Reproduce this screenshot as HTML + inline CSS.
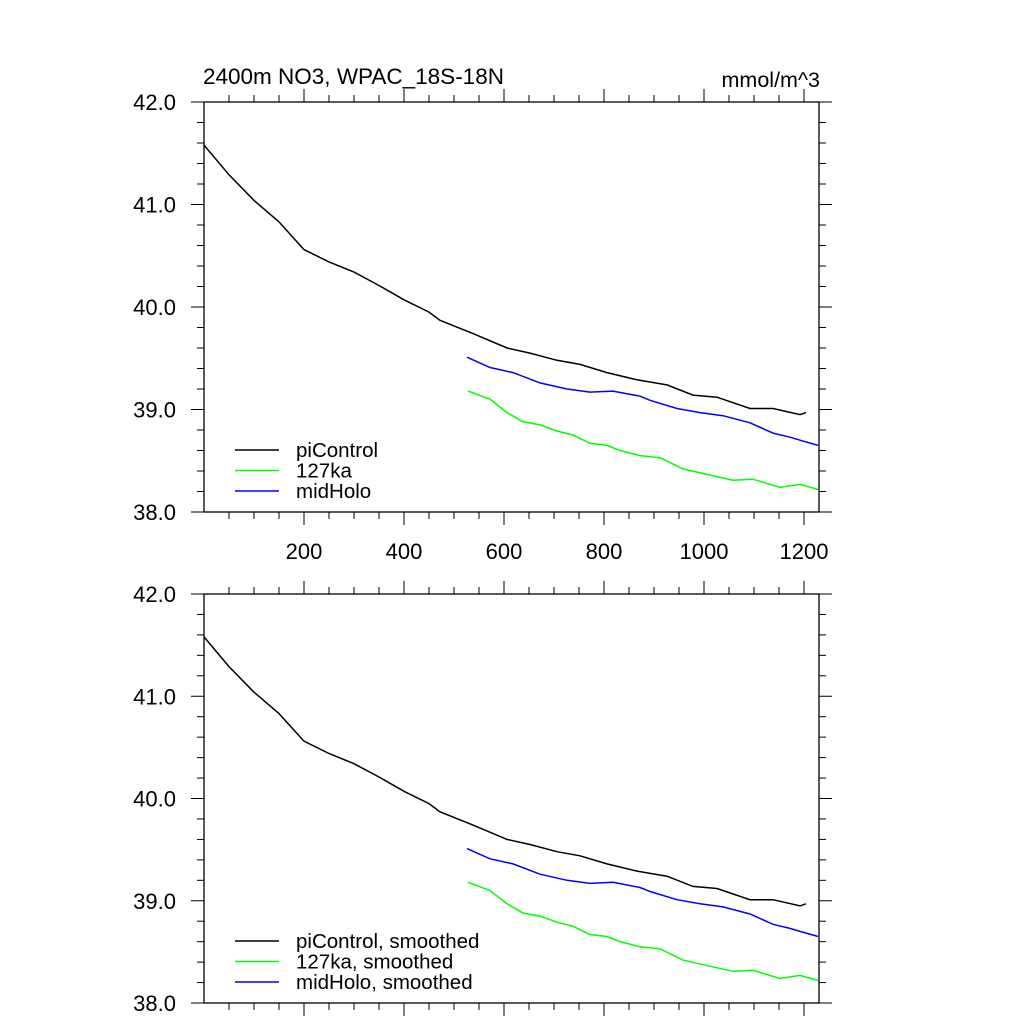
<!DOCTYPE html>
<html><head><meta charset="utf-8">
<style>
html,body{margin:0;padding:0;background:#fff;}
svg{display:block;font-family:"Liberation Sans",sans-serif;}
</style></head>
<body>
<svg id="chart" width="1024" height="1024" viewBox="0 0 1024 1024" xmlns="http://www.w3.org/2000/svg">
<text x="203" y="84" font-size="22.5">2400m NO3, WPAC_18S-18N</text>
<text x="820" y="87" font-size="21.5" text-anchor="end">mmol/m^3</text>
</svg>
<script>
const piYears = [0,50,100,150,200,250,300,350,400,450,472,538,606,652,706,752,806,866,926,978,1026,1092,1138,1192,1204];
const piValues = [41.58,41.29,41.04,40.83,40.56,40.44,40.34,40.21,40.07,39.95,39.87,39.74,39.60,39.55,39.48,39.44,39.36,39.29,39.24,39.14,39.12,39.01,39.01,38.95,38.97];
const lig127Years = [528,572,606,638,672,706,738,772,806,832,872,912,958,1012,1058,1098,1152,1192,1228];
const lig127Values = [39.18,39.10,38.97,38.88,38.85,38.79,38.75,38.67,38.65,38.60,38.55,38.53,38.42,38.36,38.31,38.32,38.24,38.27,38.22];
const midHoloYears = [526,572,618,672,726,772,818,872,892,946,992,1038,1092,1138,1172,1192,1228];
const midHoloValues = [39.51,39.41,39.36,39.26,39.20,39.17,39.18,39.13,39.09,39.01,38.97,38.94,38.87,38.77,38.73,38.70,38.65];
const yTicks = [38.0,39.0,40.0,41.0,42.0];
const xTicks = [200,400,600,800,1000,1200];

const svg = document.getElementById('chart');
const NS = 'http://www.w3.org/2000/svg';
function mk(tag, attrs, parent){
  const e = document.createElementNS(NS, tag);
  for (const k in attrs) e.setAttribute(k, attrs[k]);
  (parent||svg).appendChild(e);
  return e;
}
const L = 204, R = 819, XMIN = 0, XMAX = 1230;
function xs(v){ return L + (v - XMIN) / (XMAX - XMIN) * (R - L); }

function panel(top, bottom, name, showXLabels, suffix){
  const g = mk('g', {});
  
  
  const ys = v => bottom - (v - 38) / 4 * (bottom - top);
  const fr = mk('rect', {x:L, y:top, width:R-L, height:bottom-top, fill:'none', stroke:'#000', 'stroke-width':1.3}, g);
  
  
  for (let v = 38; v <= 42.001; v += 0.2) {
    const major = Math.abs(v - Math.round(v)) < 1e-6;
    const len = major ? 13 : 7;
    const y = ys(v);
    mk('line', {x1:L-len, y1:y, x2:L, y2:y, stroke:'#000', 'stroke-width':1}, g);
    mk('line', {x1:R, y1:y, x2:R+len, y2:y, stroke:'#000', 'stroke-width':1}, g);
  }
  yTicks.forEach(v => {
    const t = mk('text', {x:176, y:ys(v)+8, 'font-size':22, 'text-anchor':'end'}, g);
    t.textContent = v.toFixed(1);
    
    
  });
  for (let v = 50; v <= XMAX; v += 50) {
    const major = v % 200 === 0;
    const len = major ? 13 : 7;
    const x = xs(v);
    mk('line', {x1:x, y1:bottom, x2:x, y2:bottom+len, stroke:'#000', 'stroke-width':1}, g);
    mk('line', {x1:x, y1:top-len, x2:x, y2:top, stroke:'#000', 'stroke-width':1}, g);
  }
  if (showXLabels) {
    xTicks.forEach(v => {
      const t = mk('text', {x:xs(v), y:bottom+47, 'font-size':22, 'text-anchor':'middle'}, g);
      t.textContent = v;
      
      
    });
  }
  const series = [
    [piYears, piValues, '#000', 'piControl'],
    [lig127Years, lig127Values, '#00ff00', '127ka'],
    [midHoloYears, midHoloValues, '#0000ff', 'midHolo']
  ];
  series.forEach(([xsArr, vsArr, col, lab], i) => {
    const d = xsArr.map((x, j) => (j ? 'L' : 'M') + xs(x).toFixed(1) + ' ' + ys(vsArr[j]).toFixed(1)).join(' ');
    const p = mk('path', {d:d, fill:'none', stroke:col, 'stroke-width':1.5}, g);
    
    
    const ly = bottom - 62 + i * 20.5;
    const ll = mk('line', {x1:235, y1:ly, x2:279, y2:ly, stroke:col, 'stroke-width':1.5}, g);
    
    
    const lt = mk('text', {x:296, y:ly+7, 'font-size':20.5}, g);
    lt.textContent = lab + suffix;
    
    
  });
}
panel(102, 512, 'top-panel', true, '');
panel(594, 1003, 'bottom-panel', false, ', smoothed');
</script>
</body></html>
